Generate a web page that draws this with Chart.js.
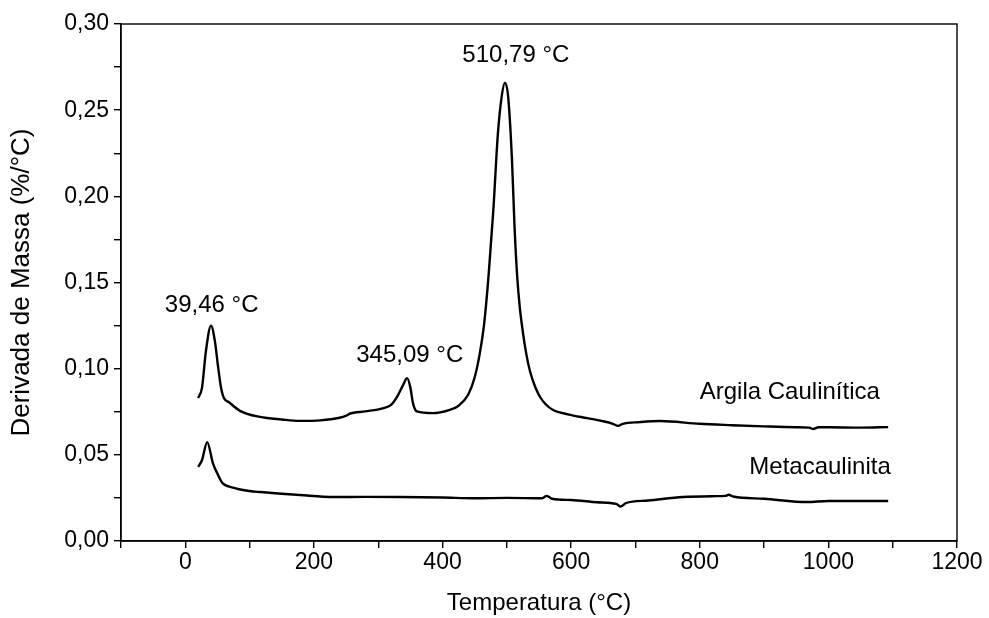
<!DOCTYPE html>
<html>
<head>
<meta charset="utf-8">
<script src="https://cdn.jsdelivr.net/npm/chart.js@4.4.0/dist/chart.umd.min.js"></script>
<style>
  html, body { margin: 0; padding: 0; background: #fff; }
  #wrap { width: 989px; height: 618px; }
</style>
</head>
<body>
<div id="wrap"><canvas id="dtgChart"></canvas></div>
<script>
// Argila Caulinítica (upper curve)
const argilaTemp = [20, 26, 32, 40, 46, 51, 56, 60, 68, 85, 116, 150, 178, 210, 240, 251, 255, 280, 307, 320, 329, 338, 345, 350, 354, 360, 385, 410, 425, 440, 450, 458, 465, 472, 479, 486, 492, 497, 502, 508, 512, 516, 520, 525, 530, 536, 544, 551, 560, 572, 595, 625, 650, 665, 673, 680, 707, 738, 800, 850, 900, 950, 970, 976, 985, 1000, 1050, 1093];
const argilaDeriv = [0.083, 0.089, 0.110, 0.125, 0.116, 0.101, 0.088, 0.083, 0.0805, 0.0755, 0.072, 0.0705, 0.0697, 0.070, 0.0715, 0.0728, 0.0738, 0.0752, 0.077, 0.079, 0.0835, 0.090, 0.0945, 0.089, 0.080, 0.0752, 0.0742, 0.076, 0.0785, 0.085, 0.095, 0.109, 0.127, 0.156, 0.192, 0.236, 0.258, 0.266, 0.258, 0.221, 0.182, 0.154, 0.136, 0.121, 0.109, 0.0985, 0.0895, 0.084, 0.0795, 0.076, 0.0735, 0.0713, 0.0695, 0.068, 0.0668, 0.068, 0.069, 0.0696, 0.068, 0.0672, 0.0665, 0.066, 0.0658, 0.065, 0.066, 0.066, 0.0658, 0.0661];

// Metacaulinita (lower curve)
const metaTemp = [20, 26, 34, 43, 50, 57, 74, 100, 116, 178, 230, 280, 334, 400, 450, 500, 555, 562, 566, 570, 600, 640, 670, 677, 685, 720, 774, 820, 840, 845, 852, 900, 967, 1000, 1050, 1093];
const metaDeriv = [0.043, 0.047, 0.0574, 0.045, 0.039, 0.034, 0.031, 0.029, 0.0284, 0.0267, 0.0255, 0.0256, 0.0255, 0.0252, 0.0248, 0.025, 0.0248, 0.0262, 0.0255, 0.0245, 0.0238, 0.0225, 0.0215, 0.020, 0.022, 0.0235, 0.0255, 0.026, 0.0262, 0.0268, 0.0258, 0.0245, 0.0226, 0.0232, 0.0232, 0.0232];

const xTicksLabeled = [0, 200, 400, 600, 800, 1000, 1200];

// text marks: [label, temperature, derivative]
const notes = [
    ['39,46 °C', 41, 0.137],
    ['345,09 °C', 349, 0.108],
    ['510,79 °C', 514, 0.282],
    ['Argila Caulinítica', 940, 0.086],
    ['Metacaulinita', 987, 0.043]
];

const fontFamily = '"Liberation Sans", Arial, sans-serif';

function toPoints(xs, ys) {
    return xs.map((x, i) => ({ x: x, y: ys[i] }));
}

const boxAndNotes = {
    id: 'boxAndNotes',
    afterDraw(chart) {
        const c = chart.ctx;
        const a = chart.chartArea;
        c.save();
        c.strokeStyle = '#000';
        c.lineWidth = 1.4;
        c.strokeRect(a.left, a.top, a.right - a.left, a.bottom - a.top);
        c.fillStyle = '#000';
        c.font = '24px ' + fontFamily;
        c.textAlign = 'center';
        c.textBaseline = 'middle';
        notes.forEach(n => {
            c.fillText(n[0], chart.scales.x.getPixelForValue(n[1]), chart.scales.y.getPixelForValue(n[2]));
        });
        c.restore();
    }
};

const ctx = document.getElementById('dtgChart').getContext('2d');

new Chart(ctx, {
    type: 'line',
    data: {
        datasets: [{
            label: 'Argila Caulinítica',
            data: toPoints(argilaTemp, argilaDeriv),
            borderColor: '#000',
            borderWidth: 2.4,
            pointRadius: 0,
            cubicInterpolationMode: 'monotone'
        }, {
            label: 'Metacaulinita',
            data: toPoints(metaTemp, metaDeriv),
            borderColor: '#000',
            borderWidth: 2.4,
            pointRadius: 0,
            cubicInterpolationMode: 'monotone'
        }]
    },
    options: {
        responsive: true,
        maintainAspectRatio: false,
        animation: false,
        layout: { padding: { top: 24, right: 32, left: 0, bottom: 0 } },
        plugins: {
            legend: { display: false },
            tooltip: { enabled: false }
        },
        scales: {
            x: {
                type: 'linear',
                min: -100,
                max: 1200,
                afterFit: s => { s.height = 77; },
                afterBuildTicks: s => {
                    s.ticks = [];
                    for (let v = -100; v <= 1200; v += 100) s.ticks.push({ value: v });
                },
                ticks: {
                    color: '#000',
                    font: { family: fontFamily, size: 23 },
                    padding: 1,
                    maxRotation: 0,
                    autoSkip: false,
                    callback: v => xTicksLabeled.includes(v) ? String(v) : ''
                },
                grid: { drawOnChartArea: false, tickLength: 7, color: '#000', lineWidth: 1.4 },
                border: { color: '#000', width: 1.4 },
                title: {
                    display: true,
                    text: 'Temperatura (°C)',
                    color: '#000',
                    font: { family: fontFamily, size: 24 },
                    padding: { top: 0, bottom: 0 }
                }
            },
            y: {
                type: 'linear',
                min: 0,
                max: 0.30,
                afterFit: s => { s.width = 121; },
                afterBuildTicks: s => {
                    s.ticks = [];
                    for (let i = 0; i <= 12; i++) s.ticks.push({ value: i * 0.025 });
                },
                ticks: {
                    color: '#000',
                    font: { family: fontFamily, size: 23 },
                    padding: 5,
                    autoSkip: false,
                    callback: v => {
                        const k = Math.round(v * 1000);
                        return k % 50 === 0 ? (k / 1000).toFixed(2).replace('.', ',') : '';
                    }
                },
                grid: { drawOnChartArea: false, tickLength: 7, color: '#000', lineWidth: 1.4 },
                border: { color: '#000', width: 1.4 },
                title: {
                    display: true,
                    text: 'Derivada de Massa (%/°C)',
                    color: '#000',
                    font: { family: fontFamily, size: 26 },
                    padding: { top: 6, bottom: 0 }
                }
            }
        }
    },
    plugins: [boxAndNotes]
});
</script>
</body>
</html>
